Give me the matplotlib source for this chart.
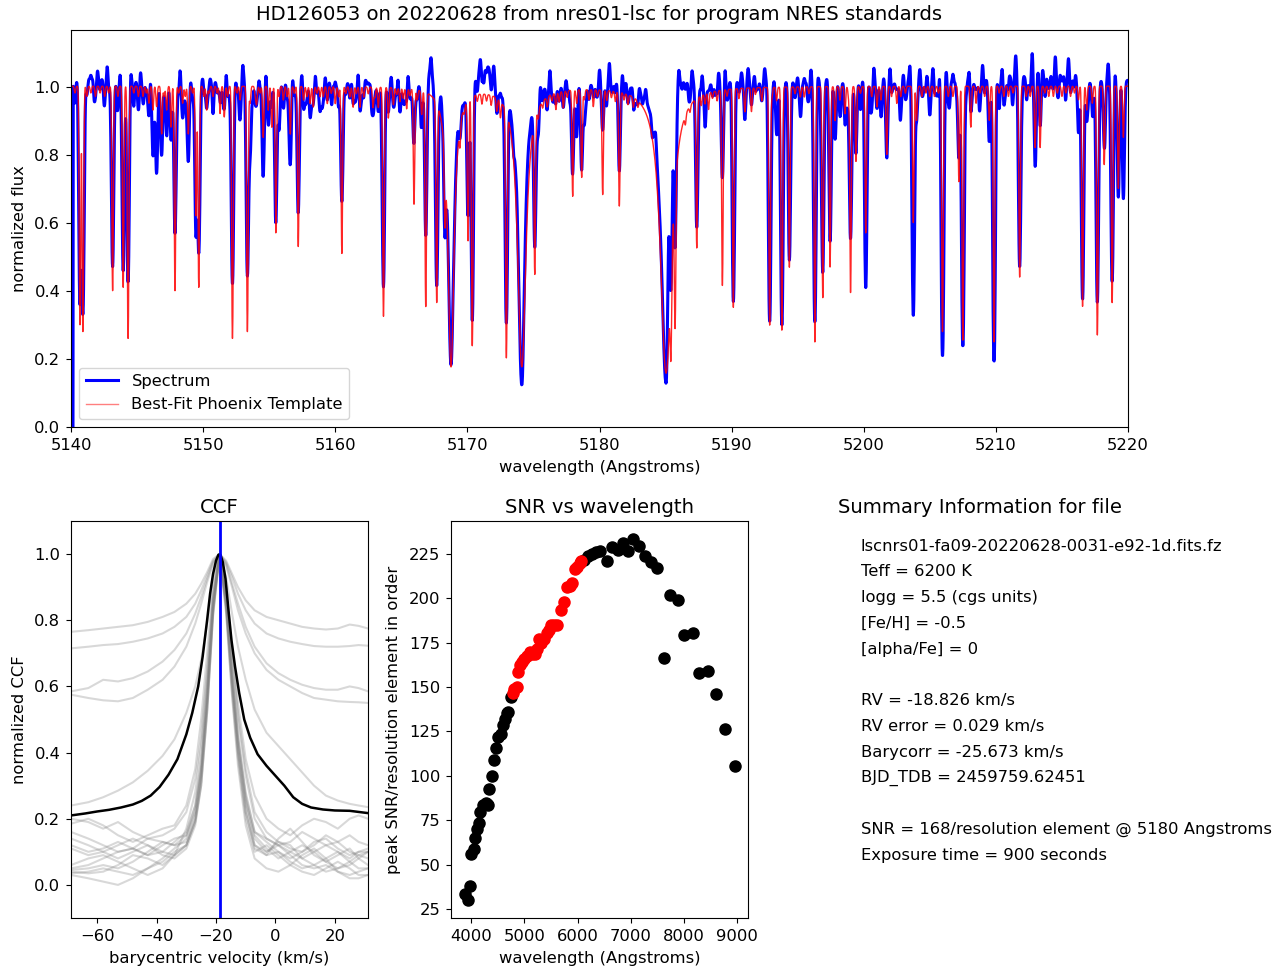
import numpy as np
import matplotlib.pyplot as plt

plt.rcParams.update({"font.size": 11.75, "font.family": "DejaVu Sans",
                     "axes.labelpad": 5.5, "xtick.major.pad": 4.2,
                     "ytick.major.pad": 4.2})

# ---------------- spectrum (vacuum wavelengths) ----------------
# absorption lines: centre, template minimum, observed minimum
line_wl = [5140.68, 5140.90, 5143.15, 5143.95, 5144.32, 5145.10, 5145.90, 5146.20,
           5146.48, 5146.86, 5147.24, 5147.57, 5147.87, 5148.45, 5148.88, 5149.46,
           5149.67, 5150.27, 5151.28, 5151.60, 5152.22, 5152.80, 5153.35, 5153.55,
           5154.05, 5154.55, 5154.93, 5155.20, 5155.50, 5155.75, 5156.07, 5156.60,
           5157.20, 5157.60, 5158.10, 5158.34, 5158.85, 5159.40, 5160.00, 5160.50,
           5161.35, 5161.87, 5162.86, 5163.26, 5163.65, 5164.02, 5164.40, 5164.90,
           5165.40, 5165.96, 5166.54, 5166.85, 5167.68, 5168.30, 5169.44, 5170.05,
           5170.37, 5172.22, 5172.50, 5172.95, 5175.10, 5175.37, 5176.70, 5177.26,
           5177.97, 5178.27, 5178.65, 5178.85, 5179.53, 5180.24, 5181.50, 5182.56,
           5185.40, 5185.72, 5187.36, 5187.99, 5188.25, 5189.30, 5190.13, 5191.00,
           5191.50, 5192.28, 5192.88, 5193.40, 5193.80, 5194.37, 5195.20, 5196.30,
           5196.90, 5197.45, 5197.83, 5198.20, 5198.58, 5199.00, 5199.41, 5200.15,
           5200.60, 5201.00, 5201.30, 5201.74, 5202.50, 5202.80, 5203.75, 5204.00,
           5205.00, 5205.96, 5206.40, 5207.20, 5207.50, 5208.10, 5208.50, 5209.50,
           5209.86, 5210.60, 5211.80, 5212.30, 5212.97, 5213.35, 5214.00, 5216.25,
           5216.56, 5216.87, 5217.30, 5217.68, 5218.20, 5218.80, 5219.27, 5219.65]
line_tmpl = [0.30, 0.28, 0.40, 0.41, 0.26, 0.97, 0.95, 0.93,
             0.94, 0.86, 0.93, 0.88, 0.40, 0.95, 0.86, 0.62,
             0.41, 0.93, 0.92, 0.91, 0.26, 0.96, 0.28, 0.95,
             0.95, 0.85, 0.93, 0.88, 0.57, 0.97, 0.96, 0.86,
             0.53, 0.96, 0.95, 0.94, 0.97, 0.95, 0.95, 0.51,
             0.94, 0.94, 0.94, 0.94, 0.326, 0.91, 0.95, 0.96,
             0.94, 0.66, 0.93, 0.36, 0.385, 0.75, 0.93, 0.57,
             0.246, 0.96, 0.95, 0.22, 0.50, 0.97, 0.95, 0.95,
             0.685, 0.96, 0.74, 0.97, 0.95, 0.69, 0.66, 0.97,
             0.45, 0.41, 0.545, 0.97, 0.95, 0.42, 0.354, 0.93,
             0.93, 0.96, 0.30, 0.96, 0.285, 0.47, 0.97, 0.25,
             0.38, 0.47, 0.90, 0.96, 0.92, 0.395, 0.78, 0.57,
             0.97, 0.94, 0.96, 0.80, 0.95, 0.97, 0.60, 0.90,
             0.97, 0.28, 0.97, 0.72, 0.255, 0.88, 0.95, 0.90,
             0.25, 0.97, 0.44, 0.97, 0.82, 0.82, 0.97, 0.96,
             0.354, 0.93, 0.95, 0.27, 0.77, 0.365, 0.70, 0.85]
line_obs = [0.36, 0.34, 0.47, 0.46, 0.43, 0.93, 0.91, 0.82,
            0.73, 0.80, 0.90, 0.84, 0.57, 0.91, 0.78, 0.56,
            0.53, 0.95, 0.93, 0.94, 0.42, 0.92, 0.45, 0.79,
            0.96, 0.756, 0.90, 0.92, 0.60, 0.91, 0.93, 0.78,
            0.62, 0.93, 0.91, 0.96, 0.93, 0.96, 0.97, 0.64,
            0.95, 0.93, 0.93, 0.93, 0.41, 0.94, 0.95, 0.93,
            0.96, 0.82, 0.93, 0.57, 0.43, 0.70, 0.95, 0.66,
            0.32, 0.97, 0.97, 0.32, 0.56, 0.90, 0.95, 0.96,
            0.72, 0.88, 0.76, 0.90, 0.96, 0.87, 0.80, 0.94,
            0.50, 0.55, 0.59, 0.93, 0.97, 0.74, 0.37, 0.95,
            0.96, 0.96, 0.31, 0.87, 0.29, 0.49, 0.93, 0.31,
            0.45, 0.56, 0.84, 0.93, 0.88, 0.53, 0.80, 0.41,
            0.94, 0.96, 0.90, 0.82, 0.96, 0.94, 0.325, 0.94,
            0.94, 0.21, 0.96, 0.78, 0.226, 0.92, 0.96, 0.87,
            0.19, 0.94, 0.47, 0.94, 0.80, 0.88, 0.94, 0.91,
            0.37, 0.90, 0.89, 0.36, 0.85, 0.43, 0.70, 0.67]

# weak features (relative depths)
weak_wl = [5140.30, 5141.20, 5141.50, 5141.85, 5142.20, 5142.55, 5142.85, 5143.55,
           5144.75, 5145.45, 5145.70, 5147.05, 5148.15, 5148.65, 5149.20, 5150.05,
           5150.45, 5150.75, 5151.05, 5151.85, 5152.55, 5153.95, 5154.30, 5156.35,
           5156.90, 5157.85, 5158.60, 5159.10, 5159.70, 5160.25, 5160.80, 5161.10,
           5161.60, 5162.15, 5162.50, 5163.00, 5164.65, 5165.15, 5165.65, 5166.20,
           5169.75, 5170.75, 5171.10, 5171.45, 5171.80, 5175.70, 5176.05, 5176.40,
           5176.95, 5177.55, 5179.20, 5179.85, 5180.55, 5180.90, 5181.20, 5181.85,
           5182.15, 5182.90, 5186.50, 5186.85, 5187.70, 5188.55, 5188.90, 5189.65,
           5190.55, 5191.80, 5193.05, 5194.80, 5195.50, 5195.85, 5198.85, 5199.75,
           5202.10, 5203.15, 5204.40, 5204.70, 5205.35, 5205.65, 5206.75, 5208.80,
           5209.15, 5210.25, 5210.95, 5211.30, 5212.60, 5213.70, 5214.35, 5214.65,
           5215.00, 5215.30, 5215.65, 5215.95]
weak_tmpl = [0.98, 0.97, 0.98, 0.97, 0.98, 0.97, 0.98, 0.97,
             0.98, 0.97, 0.98, 0.97, 0.98, 0.97, 0.98, 0.97,
             0.98, 0.97, 0.98, 0.97, 0.98, 0.97, 0.98, 0.97,
             0.98, 0.97, 0.98, 0.97, 0.98, 0.97, 0.98, 0.97,
             0.98, 0.97, 0.98, 0.97, 0.98, 0.97, 0.98, 0.97,
             0.98, 0.98, 0.97, 0.98, 0.97, 0.98, 0.97, 0.98,
             0.97, 0.98, 0.97, 0.98, 0.97, 0.98, 0.97, 0.98,
             0.97, 0.98, 0.97, 0.98, 0.97, 0.98, 0.97, 0.98,
             0.97, 0.98, 0.97, 0.98, 0.97, 0.98, 0.97, 0.98,
             0.97, 0.98, 0.97, 0.98, 0.97, 0.98, 0.97, 0.98,
             0.97, 0.98, 0.97, 0.98, 0.97, 0.98, 0.97, 0.98,
             0.97, 0.98, 0.97, 0.98]
weak_obs = [0.96, 0.95, 0.97, 0.95, 0.96, 0.95, 0.97, 0.95,
            0.96, 0.95, 0.97, 0.95, 0.96, 0.95, 0.96, 0.95,
            0.97, 0.95, 0.96, 0.95, 0.96, 0.95, 0.97, 0.95,
            0.96, 0.95, 0.96, 0.95, 0.96, 0.95, 0.97, 0.95,
            0.96, 0.95, 0.96, 0.95, 0.96, 0.95, 0.96, 0.95,
            0.97, 0.96, 0.95, 0.97, 0.95, 0.96, 0.95, 0.97,
            0.95, 0.96, 0.95, 0.96, 0.95, 0.97, 0.95, 0.96,
            0.95, 0.96, 0.96, 0.95, 0.96, 0.95, 0.96, 0.95,
            0.96, 0.95, 0.96, 0.95, 0.96, 0.95, 0.96, 0.95,
            0.96, 0.95, 0.96, 0.95, 0.96, 0.95, 0.96, 0.95,
            0.96, 0.95, 0.95, 0.96, 0.95, 0.95, 0.95, 0.94,
            0.95, 0.95, 0.95, 0.95]

# pixel-to-pixel ripple of the observed spectrum, in percent, every 0.25 A from 5140
obs_ripple = [
    2, -3, 1, 4, -2, 0, 3, -4, 2, 1, -3, 4, -1, 2, -4, 3, 0, -2, 4, -3,
    1, 3, -2, 0, 4, -3, 2, -1, 3, -4, 1, 2, -3, 4, 0, -2, 3, -1, 2, -4,
    3, -1, 2, -4, 1, 3, -2, 4, -3, 0, 2, -2, 4, -1, 3, -4, 1, 2, -3, 3,
    -2, 4, 0, -3, 2, 1, -4, 3, -1, 2, 4, -3, 1, -2, 3, 0, -4, 2, 1, -3,
    4, -2, 3, -1, 0, 2, -3, 4, -2, 1, 3, -4, 2, 0, -3, 4, -1, 2, -2, 3,
    0, -3, 4, -2, 3, 1, -4, 2, -1, 4, -3, 1, 3, -2, 0, 4, -3, 2, -1, 1,
    -3, 2, 4, -1, 3, -4, 1, 0, 3, -2, 4, -3, 2, 1, -4, 3, -2, 4, 0, -1,
    2, -4, 3, 1, -2, 4, -3, 2, 0, -1, 3, -4, 4, -2, 1, 3, -3, 0, 2, -2,
    3, 1, -3, 4, -2, 2, -4, 3, 1, -1, 4, -3, 2, -2, 3, 0, -4, 4, -1, 2,
    -1, 3, -4, 2, 4, -2, 1, -3, 3, 0, -2, 4, -4, 2, 1, -3, 3, -1, 4, -2,
    4, -3, 1, 2, -4, 3, -1, 4, -2, 0, 3, -3, 2, 1, -4, 4, -2, 3, -1, 0,
    1, -2, 4, -3, 3, -1, 2, -4, 4, 1, -3, 2, 0, -2, 3, -4, 4, -1, 2, -3,
    3, 0, -4, 4, -2, 2, 1, -3, 4, -1, 3, -4, 2, -2, 4, 1, -3, 3, -2, 4,
    -2, 4, -3, 5, -1, 3, -4, 5, -2, 2, 4, -3, 5, -1, 3, -4, 4, 1, -3, 5,
    4, -3, 5, -2, 3, -4, 5, 0, -3, 4, -2, 5, -4, 3, 1, -3, 5, -2, 4, -4,
    2, -3, 4, -1, 3, -4, 2, 1, -3, 4, -2, 3, 0, -4, 4, -1, 3, -3, 2, 1,
]
ripple_start = 5140.0
ripple_step = 0.25

# Mg b triplet: centre, minima, wing strength (left, right)
mg_wl = [5168.76, 5174.12, 5185.04]
mg_tmpl = [0.177, 0.177, 0.158]
mg_obs = [0.175, 0.124, 0.13]
mg_wing_tmpl = [(0.06, 0.06), (0.11, 0.11), (0.20, 0.20)]
mg_wing_obs = [(0.05, 0.05), (0.08, 0.06), (0.15, 0.03)]

# continuum levels and broad bumps of the observed continuum
tmpl_level = 1.003
obs_level = 1.02
bump_wl = [5141.5, 5167.15, 5171.30, 5180.9, 5186.3, 5213.8]
bump_amp = [0.01, 0.045, 0.07, 0.015, 0.02, 0.035]
bump_width = [0.8, 0.25, 0.55, 0.8, 0.4, 1.6]
bad_pixel_wl = 5140.15

# ---------------- CCF ----------------
rv = -18.826
ccf_v = [-68.8, -64, -60, -56, -52, -48, -45, -42, -39, -36, -33, -30, -28, -26,
         -24.5, -23, -22, -21, -20, -19.2, -18.5, -17.7, -16.8, -15.8, -14.8,
         -13.6, -12.2, -10.5, -8.5, -6, -3, 0, 3, 6, 9, 12, 16, 20, 25, 31.2]
ccf_mean = [0.210, 0.216, 0.222, 0.227, 0.234, 0.243, 0.254, 0.270, 0.296, 0.333,
            0.380, 0.455, 0.520, 0.600, 0.690, 0.800, 0.880, 0.940, 0.980, 0.998,
            0.998, 0.975, 0.925, 0.830, 0.740, 0.660, 0.580, 0.500, 0.445, 0.395,
            0.360, 0.330, 0.300, 0.265, 0.245, 0.234, 0.228, 0.225, 0.224, 0.217]

order_v = [-68.8, -63, -58, -53, -48, -43, -38, -34, -30, -27, -25, -23, -21, -18.8,
           -16.6, -14.6, -12.6, -10, -7, -3, 1, 5, 9, 13, 17, 21, 25, 28, 31.2]
order_ccfs = [
    [0.765, 0.77, 0.775, 0.78, 0.785, 0.795, 0.81, 0.825, 0.85, 0.88, 0.91, 0.945, 0.985, 1.0,
     0.98, 0.94, 0.9, 0.86, 0.83, 0.81, 0.80, 0.79, 0.78, 0.775, 0.772, 0.775, 0.787, 0.783, 0.775],
    [0.715, 0.72, 0.725, 0.728, 0.735, 0.745, 0.76, 0.78, 0.81, 0.85, 0.89, 0.935, 0.98, 1.0,
     0.975, 0.93, 0.88, 0.83, 0.79, 0.76, 0.745, 0.735, 0.728, 0.722, 0.72, 0.72, 0.722, 0.725, 0.723],
    [0.585, 0.595, 0.62, 0.615, 0.625, 0.645, 0.675, 0.71, 0.76, 0.82, 0.87, 0.925, 0.975, 1.0,
     0.97, 0.91, 0.85, 0.78, 0.72, 0.67, 0.64, 0.62, 0.605, 0.595, 0.59, 0.59, 0.6, 0.595, 0.585],
    [0.575, 0.565, 0.558, 0.555, 0.565, 0.59, 0.62, 0.66, 0.72, 0.79, 0.85, 0.915, 0.97, 1.0,
     0.965, 0.9, 0.83, 0.76, 0.7, 0.65, 0.62, 0.6, 0.58, 0.565, 0.56, 0.555, 0.553, 0.552, 0.55],
    [0.24, 0.25, 0.265, 0.285, 0.31, 0.345, 0.39, 0.44, 0.52, 0.6, 0.68, 0.79, 0.93, 1.0,
     0.93, 0.82, 0.72, 0.62, 0.53, 0.46, 0.42, 0.38, 0.34, 0.3, 0.27, 0.255, 0.245, 0.24, 0.235],
    [0.20, 0.19, 0.17, 0.19, 0.16, 0.14, 0.15, 0.17, 0.22, 0.32, 0.45, 0.65, 0.88, 1.0,
     0.9, 0.72, 0.55, 0.38, 0.27, 0.2, 0.17, 0.15, 0.18, 0.2, 0.19, 0.17, 0.2, 0.21, 0.2],
    [0.185, 0.2, 0.18, 0.15, 0.13, 0.15, 0.17, 0.18, 0.24, 0.35, 0.5, 0.7, 0.9, 1.0,
     0.88, 0.68, 0.5, 0.33, 0.2, 0.14, 0.12, 0.13, 0.16, 0.14, 0.12, 0.13, 0.15, 0.13, 0.12],
    [0.16, 0.14, 0.12, 0.1, 0.11, 0.14, 0.13, 0.12, 0.15, 0.24, 0.38, 0.6, 0.86, 1.0,
     0.87, 0.65, 0.45, 0.26, 0.14, 0.1, 0.12, 0.1, 0.08, 0.1, 0.12, 0.1, 0.08, 0.1, 0.11],
    [0.14, 0.12, 0.1, 0.08, 0.1, 0.12, 0.1, 0.09, 0.12, 0.2, 0.33, 0.55, 0.84, 1.0,
     0.86, 0.62, 0.42, 0.24, 0.12, 0.09, 0.14, 0.17, 0.13, 0.09, 0.07, 0.09, 0.11, 0.08, 0.06],
    [0.12, 0.1, 0.11, 0.13, 0.11, 0.09, 0.1, 0.13, 0.16, 0.24, 0.36, 0.58, 0.85, 1.0,
     0.85, 0.63, 0.44, 0.27, 0.16, 0.13, 0.1, 0.08, 0.1, 0.13, 0.14, 0.11, 0.09, 0.1, 0.1],
    [0.11, 0.09, 0.1, 0.12, 0.14, 0.12, 0.09, 0.08, 0.11, 0.18, 0.3, 0.52, 0.82, 1.0,
     0.84, 0.6, 0.4, 0.22, 0.12, 0.1, 0.13, 0.12, 0.08, 0.06, 0.08, 0.1, 0.07, 0.05, 0.05],
    [0.05, 0.06, 0.08, 0.1, 0.11, 0.09, 0.12, 0.14, 0.15, 0.22, 0.35, 0.58, 0.85, 1.0,
     0.86, 0.64, 0.45, 0.28, 0.16, 0.14, 0.12, 0.09, 0.06, 0.05, 0.06, 0.04, 0.03, 0.04, 0.05],
    [0.045, 0.05, 0.06, 0.05, 0.07, 0.1, 0.13, 0.12, 0.13, 0.2, 0.33, 0.55, 0.83, 1.0,
     0.84, 0.6, 0.4, 0.22, 0.11, 0.09, 0.1, 0.07, 0.05, 0.06, 0.04, 0.05, 0.07, 0.09, 0.08],
    [0.04, 0.035, 0.04, 0.06, 0.09, 0.08, 0.06, 0.09, 0.12, 0.19, 0.31, 0.53, 0.82, 1.0,
     0.83, 0.58, 0.38, 0.2, 0.1, 0.12, 0.09, 0.06, 0.04, 0.03, 0.05, 0.07, 0.05, 0.03, 0.03],
    [0.035, 0.04, 0.05, 0.04, 0.03, 0.05, 0.08, 0.11, 0.14, 0.22, 0.34, 0.56, 0.84, 1.0,
     0.85, 0.62, 0.42, 0.25, 0.15, 0.11, 0.08, 0.1, 0.12, 0.1, 0.07, 0.05, 0.06, 0.08, 0.1],
    [0.03, 0.02, 0.01, 0.0, 0.02, 0.05, 0.07, 0.1, 0.12, 0.19, 0.3, 0.52, 0.81, 1.0,
     0.82, 0.57, 0.36, 0.18, 0.08, 0.05, 0.04, 0.06, 0.09, 0.11, 0.08, 0.04, 0.02, 0.02, 0.03],
    [0.06, 0.08, 0.09, 0.07, 0.05, 0.03, 0.05, 0.09, 0.17, 0.28, 0.42, 0.63, 0.87, 1.0,
     0.88, 0.7, 0.52, 0.35, 0.22, 0.16, 0.13, 0.11, 0.1, 0.12, 0.15, 0.13, 0.1, 0.09, 0.1],
]

# ---------------- SNR per order ----------------
snr_wl = [3875, 3950, 3969, 4000, 4050, 4081, 4106, 4143, 4174, 4218, 4280, 4299, 4324,
          4342, 4392, 4436, 4467, 4511, 4560, 4598, 4635, 4672, 4697, 4747,
          6117, 6192, 6273, 6354, 6428, 6553, 6646, 6752, 6852, 6939, 7051, 7163,
          7268, 7375, 7487, 7624, 7736, 7892, 7998, 8172, 8284, 8452, 8608, 8763, 8950]
snr = [33.8, 30.2, 38.1, 55.9, 59.1, 65.3, 70.0, 73.7, 79.7, 83.8, 85.0, 84.4, 83.4,
       92.8, 99.9, 108.9, 115.6, 121.8, 123.7, 128.8, 131.7, 135.5, 135.9, 144.5,
       221.6, 223.9, 224.8, 225.8, 226.3, 221.1, 228.8, 227.3, 231.0, 226.7, 233.2, 229.5,
       223.9, 220.1, 216.8, 166.4, 202.0, 198.8, 179.5, 180.4, 157.6, 158.9, 145.8, 126.5, 105.5]
snr_fit_wl = [4778, 4809, 4859, 4884, 4922, 4960, 4996, 5058, 5102, 5152, 5196, 5245, 5276,
              5320, 5370, 5420, 5463, 5507, 5557, 5619, 5681, 5743, 5806, 5856, 5899,
              5943, 5993, 6042, 6073]
snr_fit = [146.7, 148.6, 150.1, 158.3, 162.6, 164.0, 165.5, 167.3, 169.8, 168.3, 168.8, 171.4,
           177.1, 174.8, 176.7, 180.4, 182.3, 184.6, 185.1, 185.1, 193.5, 197.7, 206.3, 206.7,
           208.2, 216.4, 217.5, 219.8, 220.7]

info_lines = ["lscnrs01-fa09-20220628-0031-e92-1d.fits.fz",
              "Teff = 6200 K",
              "logg = 5.5 (cgs units)",
              "[Fe/H] = -0.5",
              "[alpha/Fe] = 0",
              "",
              "RV = -18.826 km/s",
              "RV error = 0.029 km/s",
              "Barycorr = -25.673 km/s",
              "BJD_TDB = 2459759.62451",
              "",
              "SNR = 168/resolution element @ 5180 Angstroms",
              "Exposure time = 900 seconds"]


def gauss_tau(wave, centers, fmin, sigma):
    tau = np.zeros_like(wave)
    for c, f in zip(centers, fmin):
        tau += -np.log(f) * np.exp(-0.5 * ((wave - c) / sigma) ** 2)
    return tau


def lorentz_tau(wave, centers, fmin, wings):
    tau = np.zeros_like(wave)
    for c, f, (cl, cr) in zip(centers, fmin, wings):
        t0 = -np.log(f)
        d = wave - c
        strength = np.where(d < 0, cl, cr)
        tau += strength / (d ** 2 + strength / t0)
    return tau


def obs_continuum(wave):
    cont = np.full_like(wave, obs_level)
    for b, a, s in zip(bump_wl, bump_amp, bump_width):
        cont += a * np.exp(-0.5 * ((wave - b) / s) ** 2)
    return cont


def ripple(wave):
    out = np.zeros_like(wave)
    for k, r in enumerate(obs_ripple):
        c = ripple_start + k * ripple_step
        out += 0.012 * r * np.exp(-0.5 * ((wave - c) / 0.055) ** 2)
    return out


wave_t = np.arange(5139.5, 5220.6, 0.01)
tau_t = (gauss_tau(wave_t, line_wl, line_tmpl, 0.05)
         + gauss_tau(wave_t, weak_wl, weak_tmpl, 0.05)
         + lorentz_tau(wave_t, mg_wl, mg_tmpl, mg_wing_tmpl))
flux_t = tmpl_level * np.exp(-tau_t)

wave_o = np.arange(bad_pixel_wl, 5220.6, 0.02)
rel_obs = np.array(line_obs) / obs_continuum(np.array(line_wl))
rel_mg = np.array(mg_obs) / obs_continuum(np.array(mg_wl))
tau_o = (gauss_tau(wave_o, line_wl, rel_obs, 0.08)
         + gauss_tau(wave_o, weak_wl, weak_obs, 0.07)
         + lorentz_tau(wave_o, mg_wl, rel_mg, mg_wing_obs))
flux_o = obs_continuum(wave_o) * (1 + ripple(wave_o)) * np.exp(-tau_o)
flux_o[0] = 0.0

fig = plt.figure(figsize=(12.81, 9.72), dpi=100)
ax1 = fig.add_axes([0.05543, 0.56070, 0.82514, 0.40844])
ax2 = fig.add_axes([0.05543, 0.05556, 0.23185, 0.40844])
ax3 = fig.add_axes([0.35207, 0.05556, 0.23185, 0.40844])
ax4 = fig.add_axes([0.64871, 0.05556, 0.23185, 0.40844])

# top: spectrum vs template
ax1.plot(wave_o, flux_o, color="blue", lw=2.2, label="Spectrum")
ax1.plot(wave_t, flux_t, color="red", lw=1, alpha=0.85, label="Best-Fit Phoenix Template")
ax1.set_xlim(5140, 5220)
ax1.set_ylim(0, 1.168)
ax1.set_xlabel("wavelength (Angstroms)")
ax1.set_ylabel("normalized flux")
ax1.set_title("HD126053 on 20220628 from nres01-lsc for program NRES standards", pad=7.5)
leg = ax1.legend(loc="lower left")
leg.get_lines()[1].set_alpha(0.5)

# CCF
for prof in order_ccfs:
    ax2.plot(order_v, prof, color="gray", alpha=0.3, lw=1.5)
ax2.plot(ccf_v, ccf_mean, color="black", lw=1.8)
ax2.axvline(rv, color="blue", lw=2)
ax2.set_xlim(rv - 50, rv + 50)
ax2.set_ylim(-0.1, 1.1)
ax2.set_xlabel("barycentric velocity (km/s)")
ax2.set_ylabel("normalized CCF")
ax2.set_title("CCF")

# SNR per order
ax3.plot(snr_wl, snr, "o", color="black", ms=8)
ax3.plot(snr_fit_wl, snr_fit, "o", color="red", ms=8)
ax3.set_xticks([4000, 5000, 6000, 7000, 8000, 9000])
ax3.set_yticks([25, 50, 75, 100, 125, 150, 175, 200, 225])
ax3.set_xlabel("wavelength (Angstroms)")
ax3.set_ylabel("peak SNR/resolution element in order")
ax3.set_title("SNR vs wavelength")

# summary text
ax4.axis("off")
ax4.set_title("Summary Information for file")
for i, txt in enumerate(info_lines):
    ax4.text(0.101, 0.937 - i * 0.0649, txt, transform=ax4.transAxes,
             ha="left", va="center")

fig.savefig("out.png", dpi=100)
